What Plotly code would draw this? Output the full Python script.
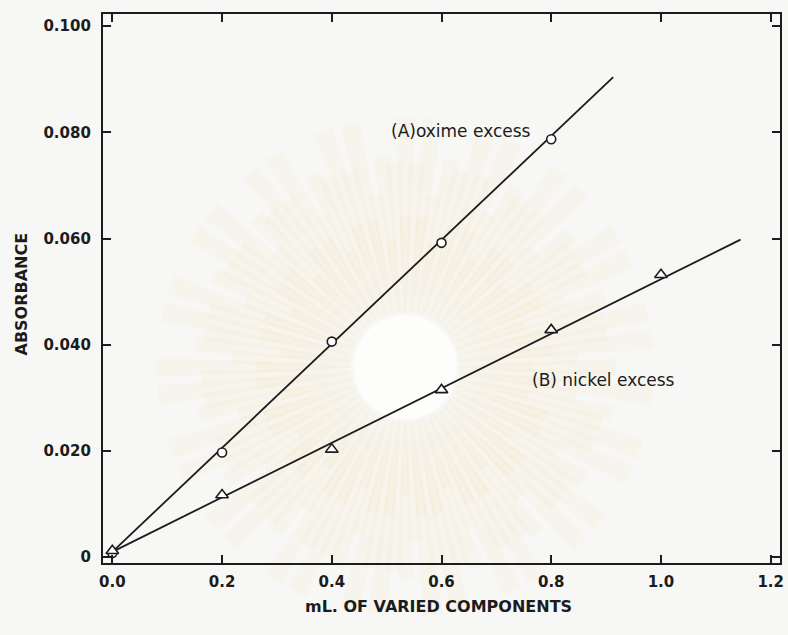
import math
import plotly.graph_objects as go

# Volume of the varied component (mL) and measured absorbance
vol_a = [0.0, 0.2, 0.4, 0.6, 0.8]
abs_a = [0.0008, 0.0197, 0.0406, 0.0592, 0.0787]

vol_b = [0.0, 0.2, 0.4, 0.6, 0.8, 1.0]
abs_b = [0.0012, 0.0117, 0.0203, 0.0315, 0.0428, 0.0532]

# End points of the straight lines drawn through each series
fit_a_x = [0.0, 0.913]
fit_a_y = [0.0010, 0.0904]
fit_b_x = [0.0, 1.145]
fit_b_y = [0.0010, 0.0598]

x_ticks = [0.0, 0.2, 0.4, 0.6, 0.8, 1.0, 1.2]
x_tick_text = ["0.0", "0.2", "0.4", "0.6", "0.8", "1.0", "1.2"]
y_ticks = [0.0, 0.02, 0.04, 0.06, 0.08, 0.10]
y_tick_text = ["0", "0.020", "0.040", "0.060", "0.080", "0.100"]

ink = "#1c1c1c"
paper = "#f7f7f5"

W, H = 788, 635
M_L, M_R, M_T, M_B = 103, 4, 14, 72
PW, PH = W - M_L - M_R, H - M_T - M_B


def to_paper(px, py):
    """Convert page pixels to paper coordinates of the plot area."""
    return (px - M_L) / PW, (H - M_B - py) / PH


def ray_path(cx, cy, ang, half, r0, r1):
    pts = [
        (cx + r0 * math.cos(ang - half * 0.5), cy - r0 * math.sin(ang - half * 0.5)),
        (cx + r1 * math.cos(ang - half), cy - r1 * math.sin(ang - half)),
        (cx + r1 * math.cos(ang + half), cy - r1 * math.sin(ang + half)),
        (cx + r0 * math.cos(ang + half * 0.5), cy - r0 * math.sin(ang + half * 0.5)),
    ]
    pp = [to_paper(px, py) for px, py in pts]
    return "M " + " L ".join(f"{x:.4f},{y:.4f}" for x, y in pp) + " Z"


# Soft sunburst seal printed faintly behind the graph
seal_shapes = []
cx, cy = 407, 367
x0, y0 = to_paper(cx - 52, cy + 52)
x1, y1 = to_paper(cx + 52, cy - 52)
seal_shapes.append(dict(type="circle", xref="paper", yref="paper",
                        x0=x0, y0=y0, x1=x1, y1=y1,
                        fillcolor="#fdfdfc", line=dict(width=0), layer="below"))
n_rays = 56
step = 2 * math.pi / n_rays
for layer_r1, alpha in [(250, 0.07), (205, 0.07), (150, 0.07)]:
    for k in range(n_rays):
        ang = step * k + (step / 2 if layer_r1 == 205 else 0)
        r1 = layer_r1 if k % 3 else layer_r1 * 0.85
        seal_shapes.append(dict(type="path",
                                path=ray_path(cx, cy, ang, step * 0.36, 55, r1),
                                xref="paper", yref="paper",
                                fillcolor=f"rgba(238,208,125,{alpha})",
                                line=dict(width=0), layer="below"))

fig = go.Figure()

fig.add_trace(go.Scatter(x=fit_a_x, y=fit_a_y, mode="lines",
                         line=dict(color=ink, width=1.8), hoverinfo="skip"))
fig.add_trace(go.Scatter(x=fit_b_x, y=fit_b_y, mode="lines",
                         line=dict(color=ink, width=1.8), hoverinfo="skip"))

fig.add_trace(go.Scatter(x=vol_a, y=abs_a, mode="markers", name="(A) oxime excess",
                         marker=dict(symbol="circle", size=9, color="white",
                                     line=dict(color=ink, width=1.6))))
fig.add_trace(go.Scatter(x=vol_b, y=abs_b, mode="markers", name="(B) nickel excess",
                         marker=dict(symbol="triangle-up", size=11, color="white",
                                     line=dict(color=ink, width=1.6))))

label_font = dict(family="DejaVu Sans", size=17, color=ink)
fig.add_annotation(x=0.636, y=0.0802, xref="x", yref="y", text="(A)oxime excess",
                   showarrow=False, font=label_font, xanchor="center", yanchor="middle")
fig.add_annotation(x=0.896, y=0.0334, xref="x", yref="y", text="(B) nickel excess",
                   showarrow=False, font=label_font, xanchor="center", yanchor="middle")

title_font = dict(family="DejaVu Sans", size=16, color=ink, weight="bold")
tx, ty = to_paper(440, 606)
fig.add_annotation(x=tx, y=ty, xref="paper", yref="paper",
                   text="mL. OF VARIED COMPONENTS", showarrow=False, font=title_font,
                   xanchor="center", yanchor="middle")
ax_, ay_ = to_paper(21, 294)
fig.add_annotation(x=ax_, y=ay_, xref="paper", yref="paper",
                   text="ABSORBANCE", textangle=-90, showarrow=False, font=title_font,
                   xanchor="center", yanchor="middle")

axis_common = dict(showline=True, linecolor=ink, linewidth=2.2, mirror="ticks",
                   ticks="inside", ticklen=8, tickwidth=1.6, tickcolor=ink,
                   showgrid=False, zeroline=False,
                   tickfont=dict(family="DejaVu Sans", size=15, color=ink, weight="bold"))

fig.update_xaxes(range=[-0.017, 1.217], tickvals=x_ticks, ticktext=x_tick_text,
                 ticklabelstandoff=4, **axis_common)
fig.update_yaxes(range=[-0.0011, 0.1023], tickvals=y_ticks, ticktext=y_tick_text,
                 ticklabelstandoff=7, **axis_common)

fig.update_layout(width=W, height=H,
                  margin=dict(l=M_L, r=M_R, t=M_T, b=M_B),
                  paper_bgcolor=paper, plot_bgcolor=paper,
                  shapes=seal_shapes, showlegend=False)

fig.write_html("out.html")
